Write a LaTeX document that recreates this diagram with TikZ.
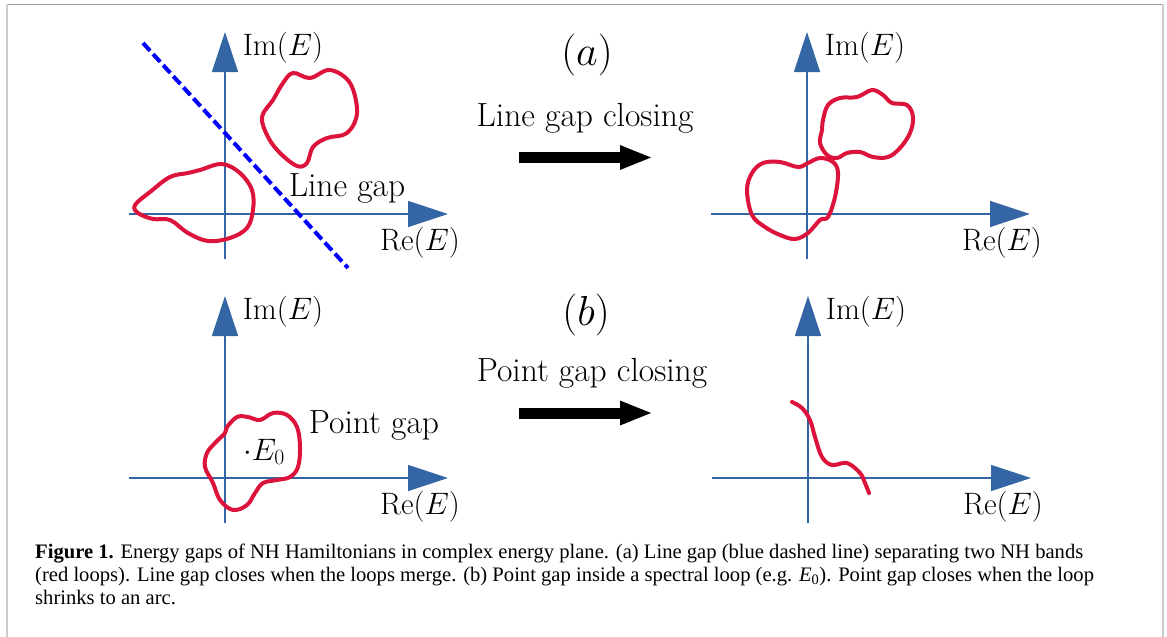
\RequirePackage{fix-cm}
\documentclass[tikz,border=0pt]{standalone}
\usepackage{fontspec}
\newfontfamily\capfont{Liberation Serif}
\usepackage{amsmath}
\usepackage{xcolor}
\usetikzlibrary{arrows.meta}
\definecolor{axisblue}{RGB}{52,101,164}
\definecolor{loopred}{RGB}{220,20,60}

\begin{document}
\begin{tikzpicture}[x=1pt,y=-1pt,>=Stealth,
  axis/.style={axisblue,line width=1.2pt,-{Triangle[length=40pt,width=26pt]}},
  band/.style={loopred,line width=4pt,line cap=round,line join=round},
  lab/.style={font=\fontsize{31}{37}\selectfont,inner sep=0pt},
  txt/.style={font=\fontsize{33.5}{40}\selectfont,inner sep=0pt},
  panel/.style={font=\fontsize{42}{50}\selectfont,inner sep=0pt},
  bigarrow/.style={line width=11pt,-{Triangle[length=33pt,width=22pt]}}]
  \useasboundingbox (0,0) rectangle (1167,637);
  % frame
  \draw[black!40,line width=1pt] (7,4.5) -- (1163,4.5);
  \draw[black!20,line width=2pt] (7,4) -- (7,637);
  \draw[black!20,line width=2pt] (1163,4) -- (1163,637);
  % four complex planes
  \foreach \ox/\oy/\nm in {225/214/a,807/214/b,225/478/c,808/478/d}{
    \coordinate (bot\nm) at (\ox,\oy+45);
    \coordinate (top\nm) at (\ox,\oy-182);
    \coordinate (lft\nm) at (\ox-96,\oy);
    \coordinate (rgt\nm) at (\ox+223,\oy);
    \draw[axis] (bot\nm) -- (top\nm);
    \draw[axis] (lft\nm) -- (rgt\nm);
    \node[lab] (im\nm) at (\ox+58,\oy-166) {$\mathrm{Im}(E)$};
    \node[lab] (re\nm) at (\ox+195,\oy+29) {$\mathrm{Re}(E)$};
  }
  % (a) two bands and the line gap
  \coordinate (gap0) at (143,43);
  \coordinate (gap1) at (348,268);
  \draw[blue,line width=4pt,dash pattern=on 10.5pt off 4.5pt] (gap0) -- (gap1);
  \draw[band] plot[smooth cycle,tension=0.6] coordinates {(262,117) (273,100) (283,83) (293,73) (310,78) (330,70) (350,83) (357,113) (347,133) (327,138) (313,147) (307,163) (297,166) (280,153) (268,137)};
  \draw[band] plot[smooth cycle,tension=0.6] coordinates {(135,205) (150,192) (170,177) (188,173) (200,170) (222,164) (240,173) (252,190) (253,210) (247,228) (230,238) (208,241) (188,233) (170,220) (153,219) (138,213)};
  \node[txt] (lgap) at (347,188) {Line gap};
  % (a) merged bands
  \draw[band] plot[smooth cycle,tension=0.6] coordinates {(823,120) (828,105) (840,98) (857,97) (872,90) (883,95) (892,103) (907,105) (913,117) (910,133) (900,148) (888,157) (873,157) (860,152) (847,153) (837,158) (827,155) (820,143) (822,130)};
  \draw[band] plot[smooth cycle,tension=0.6] coordinates {(747,190) (752,173) (763,163) (780,162) (798,167) (808,163) (820,158) (833,162) (838,173) (835,197) (828,217) (820,220) (808,233) (795,239) (780,235) (765,227) (752,215)};
  % (b) loop round E_0 and the arc
  \draw[band] plot[smooth cycle,tension=0.6] coordinates {(227,427) (237,417) (248,417) (260,420) (273,413) (287,415) (297,427) (300,447) (298,467) (290,477) (277,480) (263,483) (255,493) (247,505) (233,510) (220,500) (213,483) (205,467) (207,453) (215,443) (225,433)};
  \draw[band] plot[smooth,tension=0.6] coordinates {(792,402) (802,408) (810,420) (815,437) (822,457) (832,465) (847,463) (860,473) (865,483) (869,493)};
  \node[lab,anchor=base] (e0) at (264,460) {$\cdot E_0$};
  \node[txt] (pgap) at (374,425) {Point gap};
  % middle column
  \node[panel] (pa) at (587,55) {$(a)$};
  \node[txt] (lclose) at (585,118) {Line gap closing};
  \coordinate (la0) at (519,157.5);
  \coordinate (la1) at (653,157.5);
  \draw[bigarrow] (la0) -- (la1);
  \node[panel] (pb) at (586,315) {$(b)$};
  \node[txt] (pclose) at (592,373) {Point gap closing};
  \coordinate (lb0) at (519,413);
  \coordinate (lb1) at (653,413);
  \draw[bigarrow] (lb0) -- (lb1);
  % caption
  \node[anchor=north west,inner sep=0pt,align=left,font=\capfont\fontsize{20.6}{22.7}\selectfont] (cap) at (35,544)
    {\textbf{Figure 1.} Energy gaps of NH Hamiltonians in complex energy plane. (a) Line gap (blue dashed line) separating two NH bands\\
     (red loops). Line gap closes when the loops merge. (b) Point gap inside a spectral loop (e.g. \textit{E}\textsubscript{0}). Point gap closes when the loop\\
     shrinks to an arc.};
\end{tikzpicture}
\end{document}
